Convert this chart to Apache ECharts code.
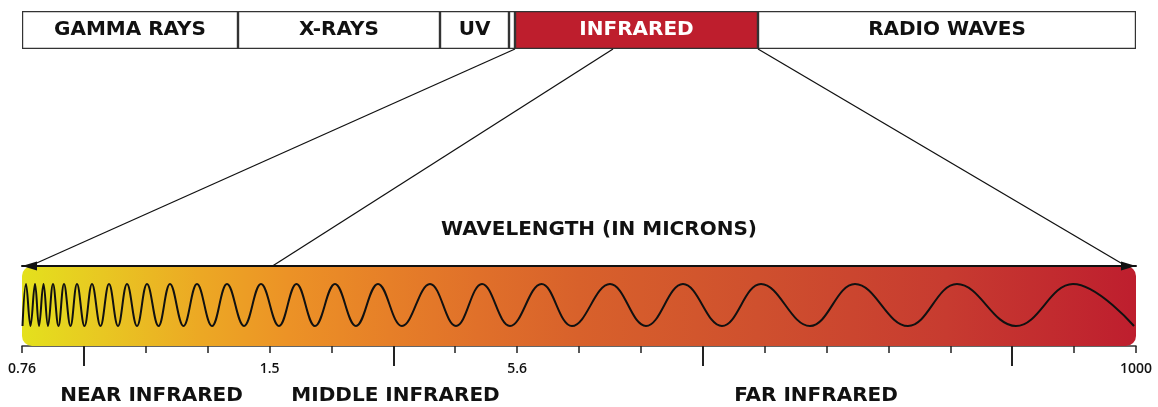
<!DOCTYPE html>
<html><head><meta charset="utf-8">
<script src="https://cdn.jsdelivr.net/npm/echarts@6/dist/echarts.min.js"></script>
<style>html,body{margin:0;padding:0;background:#fff}#c{width:1158px;height:407px}</style>
</head><body><div id="c"></div>
<script>
// ---- data ----
const spectrumBands = ['GAMMA RAYS', 'X-RAYS', 'UV', 'VISIBLE', 'INFRARED', 'RADIO WAVES'];
const bandLabels    = ['GAMMA RAYS', 'X-RAYS', 'UV', '', 'INFRARED', 'RADIO WAVES'];
const bandWidths    = [216, 202, 69, 6, 243, 378];
const highlightBand = 'INFRARED';

const tickIntervals   = 18;
const tickLabels      = ['0.76', '1.5', '5.6', '1000'];
const tickLabelIndex  = [0, 4, 8, 18];
const majorTickIndex  = [1, 6, 11, 16];

const regionNames   = ['NEAR INFRARED', 'MIDDLE INFRARED', 'FAR INFRARED'];
const regionCenters = [129.5, 373.5, 794];

// connector lines: position on the spectrum bar -> position on the wavelength bar
const connectorTop    = [493, 591, 736];
const connectorBottom = [8, 250.5, 1104];

// wave extrema positions along the bar
const waveTroughs = [0.5, 8.5, 17, 26, 36.5, 48.5, 62.5, 78.5, 96, 115, 136.5, 161.5, 190, 222, 257, 293, 334, 380, 434, 488, 550, 624, 700, 788, 886, 994, 1112];
const wavePeaks   = [4, 13, 21.5, 31, 42, 55, 70, 87, 105, 125, 148, 175, 205, 239, 274.5, 313, 356, 408, 460, 519.5, 588, 661, 739, 833, 935, 1051];
const peakLevel = 1, troughLevel = -1;

// ---- build ----
const total = bandWidths.reduce((a, b) => a + b, 0);
const tickPos = i => i * total / tickIntervals;
const allTicks = Array.from({length: tickIntervals + 1}, (_, i) => tickPos(i));
const labelTicks = tickLabelIndex.map(tickPos);
const majorTicks = majorTickIndex.map(tickPos);

const waveData = [];
waveTroughs.forEach((t, i) => {
  waveData.push([t, troughLevel]);
  if (i < wavePeaks.length) waveData.push([wavePeaks[i], peakLevel]);
});

const FONT = "'DejaVu Sans', sans-serif";
const findLabel = (v, arr, labels) => {
  for (let i = 0; i < arr.length; i++) if (Math.abs(arr[i] - v) < 1e-3) return labels[i];
  return '';
};

const specSeries = spectrumBands.map((name, i) => ({
  type: 'bar', name, stack: 'spec', xAxisIndex: 0, yAxisIndex: 0,
  barWidth: '100%', data: [bandWidths[i]],
  itemStyle: {
    color: name === highlightBand ? '#be1e2d' : '#ffffff',
    borderColor: '#333', borderWidth: 1.2
  },
  label: {
    show: bandLabels[i] !== '', position: 'inside', formatter: bandLabels[i],
    color: name === highlightBand ? '#ffffff' : '#111111',
    fontFamily: FONT, fontWeight: 'bold', fontSize: 20
  },
  silent: true
}));

const option = {
  animation: false,
  backgroundColor: '#ffffff',
  grid: [
    {left: 22, right: 22, top: 11, height: 38, outerBoundsMode: 'none'},
    {left: 22, right: 22, top: 49, height: 217, outerBoundsMode: 'none'},
    {left: 22, right: 22, top: 266, height: 80, outerBoundsMode: 'none'},
    {left: 22, right: 22, top: 284, height: 42, outerBoundsMode: 'none'}
  ],
  xAxis: [
    {gridIndex: 0, type: 'value', min: 0, max: total, show: false},
    {gridIndex: 1, type: 'value', min: 0, max: total, show: false},
    {gridIndex: 2, type: 'value', min: 0, max: total, position: 'top', z: 10,
      axisLine: {show: true, lineStyle: {color: '#111', width: 2},
        symbol: ['triangle', 'triangle'], symbolSize: [9, 15], symbolOffset: [7.5, -7.5]},
      axisTick: {show: false}, axisLabel: {show: false}, splitLine: {show: false},
      name: 'WAVELENGTH (IN MICRONS)', nameLocation: 'middle', nameGap: 26,
      nameTextStyle: {fontFamily: FONT, fontWeight: 'bold', fontSize: 20, color: '#111',
        padding: [0, 0, 0, 40]}},
    {gridIndex: 2, type: 'value', min: 0, max: total, position: 'bottom',
      axisLine: {show: true, lineStyle: {color: '#333', width: 1.5}},
      axisTick: {show: true, length: 7, lineStyle: {color: '#222', width: 1.5}, customValues: allTicks},
      axisLabel: {show: true, customValues: labelTicks, margin: 16,
        formatter: v => findLabel(v, labelTicks, tickLabels),
        fontFamily: "'Open Sans', sans-serif", fontWeight: 600, fontSize: 14, color: '#111'},
      splitLine: {show: false}},
    {gridIndex: 2, type: 'value', min: 0, max: total, position: 'bottom',
      axisLine: {show: false},
      axisTick: {show: true, length: 20, lineStyle: {color: '#222', width: 2}, customValues: majorTicks},
      axisLabel: {show: false}, splitLine: {show: false}},
    {gridIndex: 2, type: 'value', min: 0, max: total, position: 'bottom', offset: 32,
      axisLine: {show: false}, axisTick: {show: false}, splitLine: {show: false},
      axisLabel: {show: true, customValues: regionCenters, margin: 8,
        formatter: v => findLabel(v, regionCenters, regionNames),
        fontFamily: FONT, fontWeight: 'bold', fontSize: 20, color: '#111'}},
    {gridIndex: 3, type: 'value', min: 0, max: total, show: false}
  ],
  yAxis: [
    {gridIndex: 0, type: 'category', data: ['spectrum'], show: false},
    {gridIndex: 1, type: 'value', min: 0, max: 1, show: false},
    {gridIndex: 2, type: 'category', data: ['infrared'], show: false},
    {gridIndex: 3, type: 'value', min: -1, max: 1, show: false}
  ],
  series: [
    ...specSeries,
    {
      type: 'lines', coordinateSystem: 'cartesian2d', xAxisIndex: 1, yAxisIndex: 1,
      data: connectorTop.map((t, i) => ({coords: [[t, 1], [connectorBottom[i], 0]]})),
      lineStyle: {color: '#111', width: 1.3, opacity: 1}, symbol: 'none', z: 4, silent: true
    },
    {
      type: 'bar', xAxisIndex: 2, yAxisIndex: 2, data: [total], barWidth: '100%', z: 1,
      itemStyle: {
        borderRadius: 10,
        color: new echarts.graphic.LinearGradient(0, 0, 1, 0, [
          {offset: 0, color: '#e4e11d'},
          {offset: 0.07, color: '#e8c822'},
          {offset: 0.16, color: '#eca824'},
          {offset: 0.24, color: '#ec9226'},
          {offset: 0.33, color: '#e67f28'},
          {offset: 0.41, color: '#e0702a'},
          {offset: 0.5, color: '#d8612b'},
          {offset: 0.66, color: '#cf502e'},
          {offset: 0.83, color: '#c73b30'},
          {offset: 1, color: '#be1e2e'}
        ])
      },
      silent: true
    },
    {
      type: 'line', xAxisIndex: 6, yAxisIndex: 3, data: waveData,
      smooth: 0.4, showSymbol: false, z: 5, silent: true,
      lineStyle: {color: '#111', width: 2}
    }
  ]
};
const chart = echarts.init(document.getElementById('c'));
chart.setOption(option);
</script></body></html>
